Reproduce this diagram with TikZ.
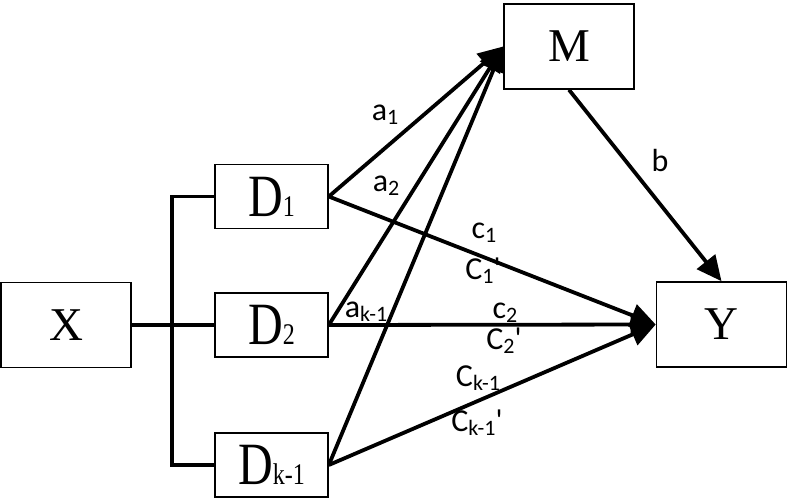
\documentclass[tikz,border=0pt]{standalone}
\usepackage{graphicx}
\usepackage{fontspec}
\setmainfont{Liberation Serif}
\setsansfont{Carlito}
\usetikzlibrary{arrows.meta}

% subscripts for the path labels and the D boxes
\newcommand\lsub[1]{\raisebox{-4pt}{\fontsize{22}{24}\selectfont #1}}
\newcommand\dlab[1]{\scalebox{.8}[1]{D{\fontsize{30}{32}\selectfont #1}}}

\begin{document}
\begin{tikzpicture}
  [x=1pt,y=-1pt,
   box/.style={draw,line width=1.6pt,rectangle,inner sep=0pt},
   bigbox/.style={box,minimum width=130pt,minimum height=85pt,font=\fontsize{47}{50}\selectfont},
   dbox/.style={box,minimum width=113pt,minimum height=64pt,font=\fontsize{60}{64}\selectfont},
   arr/.style={line width=3.8pt,-{Triangle[length=25pt,width=23pt]}},
   bus/.style={line width=3.8pt},
   lab/.style={font=\sffamily\fontsize{32}{36}\selectfont,inner sep=0pt}]
  \useasboundingbox (0,0) rectangle (789,498);

  \node[bigbox] (X) at (66,325) {X};
  \node[dbox] (D1) at (271.5,196.5) {\dlab{1}};
  \node[dbox] (D2) at (271.5,325) {\dlab{2}};
  \node[dbox] (Dk) at (271.5,465) {\dlab{k-1}};
  \node[bigbox] (M) at (569,46.5) {M};
  \node[bigbox] (Y) at (721.5,324.5) {Y};
  \coordinate (bus) at (172,325);

  \draw[bus] (X) -- (D2);
  \draw[bus] (D1.west) -| (bus) |- (Dk.west);

  \foreach \d in {D1,D2,Dk}
    \draw[arr] (\d.east) -- (M.west);
  \foreach \d in {D1,D2,Dk}
    \draw[arr] (\d.east) -- (Y.west);
  \draw[arr] (M.south) -- (Y.north);

  \node[lab] (a1) at (385,115) {a\lsub{1}};
  \node[lab] (a2) at (386,186) {a\lsub{2}};
  \node[lab] (ak) at (366,312) {a\lsub{k-1}};
  \node[lab] (b) at (660,160) {b};
  \node[lab] (c1) at (484,233) {c\lsub{1}};
  \node[lab] (c1p) at (483,271) {C\lsub{1}\textquotesingle};
  \node[lab] (c2) at (505,313) {c\lsub{2}};
  \node[lab] (c2p) at (504,341) {C\lsub{2}\textquotesingle};
  \node[lab] (ck) at (478,378) {C\lsub{k-1}};
  \node[lab] (ckp) at (477,423) {C\lsub{k-1}\textquotesingle};

\end{tikzpicture}
\end{document}
